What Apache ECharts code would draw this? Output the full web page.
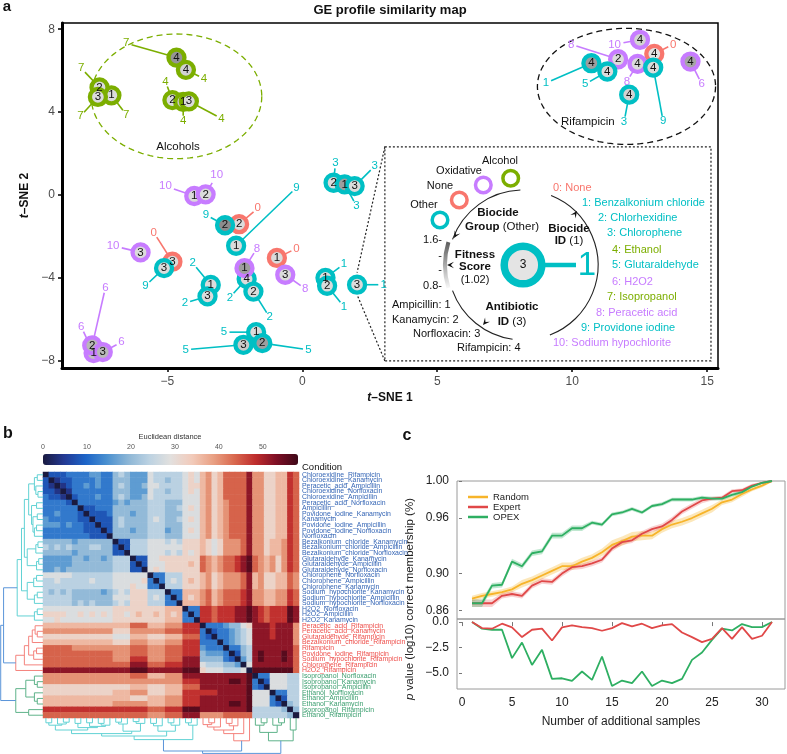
<!DOCTYPE html>
<html><head><meta charset="utf-8">
<script src="https://cdn.jsdelivr.net/npm/echarts@6/dist/echarts.min.js"></script>
<style>html,body{margin:0;padding:0;background:#fff}#c{width:787px;height:754px}</style>
</head><body><div id="c"></div>
<script>
// ---------------- Panel a data ----------------
const biocideNames = ['None','Benzalkonium chloride','Chlorhexidine','Chlorophene','Ethanol','Glutaraldehyde','H2O2','Isopropanol','Peracetic acid','Providone iodine','Sodium hypochlorite'];
const biocideGroup = ['None','Other','Other','Other','Alcohol','Other','Oxidative','Alcohol','Oxidative','Other','Oxidative'];
const antibioticNames = ['Ampicillin','Kanamycin','Norfloxacin','Rifampicin'];
const ptX = [-4.66,-4.31,-7.07,-7.51,-7.57,-4.81,-4.41,-4.20, 12.51,13.04,11.70,12.42,13.0,10.71,11.30,12.11,14.38, -4.0,-3.58,-2.34,-2.86,-2.45,-5.99,-4.81,-5.12,-3.39,-3.51,-2.06,-2.14,-1.81,-0.94,-0.63,0.86,0.92,2.03,-1.71,-2.18,-1.48,-7.73,-7.78,-7.39,1.16,1.57,1.94];
const ptY = [6.63,6.04,4.81,5.19,4.73,4.58,4.49,4.52, 7.49,6.81,6.55,6.33,6.15,6.36,5.96,4.84,6.44, -0.05,0.03,-1.41,-1.46,-2.45,-2.77,-3.22,-3.53,-4.34,-4.89,-4.05,-3.53,-4.66,-3.04,-3.85,-4.0,-4.38,-4.33,-6.62,-7.23,-7.15,-7.63,-7.26,-7.58,0.59,0.51,0.43];
const ptBiocide = [7,4,7,7,7,4,4,4, 10,0,8,8,9,1,5,3,6, 10,10,0,9,9,10,0,9,2,2,2,8,2,0,8,1,1,1,5,5,5,6,6,6,3,3,3];
const ptAntibiotic = [4,4,1,2,3,2,1,3, 4,4,2,4,4,4,4,4,4, 1,2,2,2,1,3,3,3,1,3,4,1,2,1,3,1,2,3,1,3,2,1,2,3,2,1,3];
const ptFitness = [1.35,1.0,0.95,0.95,0.95,0.95,1.05,0.95, 1.0,0.9,0.95,0.95,0.95,1.3,0.95,1.0,1.25, 0.95,0.95,0.95,1.4,0.95,0.95,0.95,0.95,0.95,0.95,0.95,1.3,0.95,0.95,0.95,0.95,0.95,0.95,0.95,1.05,1.3,1.1,1.15,1.15,0.95,1.3,0.95];
const lblX = [-6.52,-3.64,-6.52,-8.19,-8.22,-5.07,-4.41,-2.99, 11.57,13.74,9.96,12.03,13.37,9.03,10.48,11.92,14.80, -5.07,-3.17,-1.65,-3.57,-0.22,-7.01,-5.50,-5.81,-4.06,-4.35,-2.68,-1.68,-1.21,-0.22,0.11,1.54,1.54,3.02,-2.90,-4.32,0.23,-8.19,-7.29,-6.70,1.23,2.01,2.68];
const lblY = [7.32,5.61,3.88,6.12,3.80,5.48,3.56,3.69, 7.27,7.27,7.27,5.48,3.56,5.41,5.35,3.52,5.35, 0.43,0.96,-0.64,-0.96,0.35,-2.45,-1.81,-4.38,-3.28,-5.22,-4.94,-2.58,-5.90,-2.58,-4.53,-3.33,-5.38,-4.33,-6.62,-7.47,-7.47,-6.35,-4.46,-7.10,1.55,-0.53,1.39];
const clusterNames = ['Alcohols','Rifampicin'];
const clusterEllipse = [[-4.66,4.76,3.16,3.01],[12.01,5.24,3.30,2.80]];
const clusterLabelXY = [[-4.6,2.32],[10.58,3.54]];
const insetBox = [3.06,2.32,15.14,-8.01];
const insetPoint = 34; // index of the highlighted point
const xTicksA = [-5,0,5,10,15];
const yTicksA = [-8,-4,0,4,8];

// ---------------- Panel b data ----------------
const conditions = ['Chloroexidine_Rifampicin','Chloroexidine_Kanamycin','Peracetic_acid_Ampicillin','Chloroexidine_Norfloxacin','Chloroexidine_Ampicillin','Peracetic_acid_Norfloxacin','Ampicillin','Povidone_iodine_Kanamycin','Kanamycin','Povidone_iodine_Ampicillin','Povidone_iodine_Norfloxacin','Norfloxacin','Bezalkonium_chloride_Kanamycin','Bezalkonium_chloride_Ampicillin','Bezalkonium_chloride_Norfloxacin','Glutaraldehyde_Kanamycin','Glutaraldehyde_Ampicillin','Glutaraldehyde_Norfloxacin','Chlorophene_Norfloxacin','Chlorophene_Ampicillin','Chlorophene_Kanamycin','Sodium_hypochlorite_Kanamycin','Sodium_hypochlorite_Ampicillin','Sodium_hypochlorite_Norfloxacin','H2O2_Norfloxacin','H2O2_Ampicillin','H2O2_Kanamycin','Peracetic_acid_Rifampicin','Peracetic_acid_Kanamycin','Glutaraldehyde_Rifampicin','Bezalkonium_chloride_Rifampicin','Rifampicin','Povidone_iodine_Rifampicin','Sodium_hypochlorite_Rifampicin','Chlorophene_Rifampicin','H2O2_Rifampicin','Isopropanol_Norfloxacin','Isopropanol_Kanamycin','Isopropanol_Ampicillin','Ethanol_Norfloxacin','Ethanol_Ampicillin','Ethanol_Kanamycin','Isopropanol_Rifampicin','Ethanol_Rifampicin'];
const clusterSizes = [27,9,8];
// upper triangle of the distance matrix, one char per cell (hex digit x 4 = distance)
const distUpper = [
"02223 3334433 565 444 766 666 787 9A89BBBBD AA8899CB",
"0122 3333433 555 444 766 566 787 9A89BBBBD AA8899CB",
"012 3343433 565 445 776 666 788 9A89BBBBD AA8899CB",
"01 3333333 555 444 766 566 787 9A89BBBBD AA8899CB",
"0 2333433 565 445 766 666 777 9A89BBBBD AA8899CB",
"0333333 454 555 666 555 777 9A89ABBBD AA8899CB",
"022333 555 555 666 556 787 9A89ABBBD AA8899CB",
"02223 555 455 666 555 777 9A89ABBBD AA8899CB",
"0222 565 555 676 556 787 9A89ABBBD AA8899CB",
"022 565 555 666 555 777 9A89ABBBD AA8899CB",
"02 555 455 666 455 787 9A89ABBBD AA8899CB",
"0 555 555 666 555 777 9A89ABBBD AA8899CB",
"022 666 777 676 888 9878AAABD AA899ACB",
"02 666 777 777 888 9878AAABD AA899ACB",
"0 666 777 676 878 9878AAABD AA899ACB",
"022 778 888 888 BA9ABBCDE BA9A8ACB",
"02 777 888 898 BA9ABBCDE BA9A8ACB",
"0 787 888 888 BA9ABBCDE BA9A8ACB",
"033 666 888 9A89AAABD 9A8899BA",
"03 676 898 9A89AAABD 9A8899BA",
"0 666 888 9A89AAABD 9A8899BA",
"033 999 AB9ABBBCD AA99AACB",
"03 989 AB9ABBBCD AA99AACB",
"0 999 AB9ABBBCD AA99AACB",
"033 CCBCCCDDE DCBCCCED",
"03 CCBCCCDDE DCBCCCED",
"0 CCBCCCDDE DCBCCCED",
"033345578 DDDCDDDA",
"02334567 DDDCDDDA",
"0334567 DDDCDDDA",
"034567 DDDDDDDA",
"03356 DDDDDDDB",
"0256 DEDDDEDB",
"046 DEDDDEDB",
"07 DDDDDDDB",
"0 EEEEEEEB",
"033 777 66",
"02 777 66",
"0 777 66",
"033 66",
"02 66",
"0 56",
"05",
"0"];
// hierarchical merges: [nodeA, nodeB, height]; leaves 0..43, merge k -> node 44+k
const merges = [[0,1,8],[3,4,7],[2,45,10],[44,46,12],[5,6,9],[7,8,8],[9,10,9],[50,11,12],[49,51,14],[48,52,16],[47,53,20],
[12,13,7],[55,14,10],[15,16,6],[57,17,9],[56,58,22],[54,59,26],[18,19,9],[61,20,13],[21,22,8],[63,23,12],[62,64,22],[60,65,30],
[24,25,8],[67,26,12],[66,68,36],
[28,29,8],[27,70,11],[71,30,15],[31,32,9],[73,33,13],[72,74,20],[75,34,26],[76,35,38],
[37,38,8],[36,78,12],[40,41,8],[39,80,12],[79,81,24],[42,43,20],[82,83,38],
[69,77,55],[85,84,59]];
const colorbarTicks = [0,10,20,30,40,50];

// ---------------- Panel c data ----------------
const samples = [1,2,3,4,5,6,7,8,9,10,11,12,13,14,15,16,17,18,19,20,21,22,23,24,25,26,27,28,29,30,31];
const randomMean = [0.873,0.876,0.878,0.880,0.883,0.889,0.893,0.898,0.903,0.908,0.908,0.913,0.917,0.923,0.931,0.935,0.940,0.941,0.941,0.948,0.953,0.956,0.960,0.965,0.970,0.977,0.980,0.986,0.991,0.995,1.000];
const expertMean = [0.868,0.868,0.868,0.876,0.878,0.876,0.887,0.892,0.891,0.900,0.907,0.908,0.911,0.915,0.927,0.934,0.936,0.943,0.948,0.951,0.958,0.967,0.973,0.979,0.981,0.982,0.989,0.990,0.995,0.998,1.000];
const opexMean = [0.868,0.868,0.887,0.888,0.913,0.908,0.922,0.924,0.941,0.941,0.949,0.949,0.955,0.953,0.964,0.966,0.970,0.966,0.973,0.975,0.980,0.980,0.980,0.982,0.981,0.981,0.985,0.988,0.994,0.998,1.000];
const randomBand = [0.003,0.003,0.003,0.003,0.003,0.004,0.004,0.004,0.004,0.004,0.004,0.004,0.004,0.004,0.005,0.005,0.005,0.005,0.004,0.004,0.004,0.004,0.004,0.004,0.004,0.003,0.003,0.003,0.002,0.002,0.001];
const expertBand = [0.004,0.004,0.004,0.003,0.003,0.003,0.003,0.003,0.003,0.003,0.003,0.003,0.003,0.003,0.003,0.003,0.003,0.003,0.003,0.003,0.003,0.003,0.003,0.003,0.002,0.002,0.002,0.002,0.002,0.001,0.001];
const opexBand = [0.004,0.004,0.003,0.003,0.003,0.003,0.003,0.003,0.003,0.003,0.003,0.003,0.002,0.002,0.002,0.002,0.002,0.002,0.002,0.002,0.002,0.002,0.002,0.002,0.002,0.002,0.002,0.002,0.001,0.001,0.001];
const expertLogP = [0,-0.59,-0.65,-0.16,-0.52,-1.47,-0.75,-0.65,-1.8,-0.52,-0.33,-0.49,-0.59,-0.85,-0.59,-0.10,-0.43,-0.16,-0.59,-0.33,-0.2,-1.02,-1.47,-1.96,-1.64,-0.59,-1.64,-0.49,-1.64,-1.34,0];
const opexLogP = [0,-0.65,-0.75,-0.75,-3.53,-2.0,-4.19,-2.72,-5.56,-5.5,-5.75,-4.84,-5.66,-3.37,-6.25,-5.72,-5.98,-4.84,-6.25,-5.72,-5.98,-5.56,-3.70,-2.98,-1.74,-0.65,-0.82,-0.2,-0.49,-0.49,0];
const xTicksC = [0,5,10,15,20,25,30];
const yTicksCUp = [0.86,0.90,0.96,1.00];
const yTicksCLow = [-5,-2.5,0];

// ---------------- styling / build ----------------
const FF = '"Liberation Sans", Arial, Helvetica, sans-serif';
const groupColor = {None:'#F8766D', Alcohol:'#7CAE00', Other:'#00BFC4', Oxidative:'#C77CFF'};
const bioColor = b => groupColor[biocideGroup[b]];
function fitGray(f){const t=Math.max(0,Math.min(1,(f-0.8)/0.8));const v=Math.round(245-t*140);return 'rgb('+v+','+v+','+v+')';}
const minus = v => (v<0?'\u2212':'')+Math.abs(v);

// matrix
const N = conditions.length;
const M = Array.from({length:N},()=>new Array(N).fill(0));
distUpper.forEach((s,i)=>{s=s.replace(/ /g,'');for(let k=0;k<s.length;k++){const j=i+k;const v=parseInt(s[k],16)*4;M[i][j]=v;M[j][i]=v;}});
const heatData=[];for(let i=0;i<N;i++)for(let j=0;j<N;j++)heatData.push([j,i,M[i][j]]);
const bounds=[];{let acc=0;clusterSizes.forEach(s=>{bounds.push([acc,acc+s-1]);acc+=s;});}
const clusterOf = i => bounds.findIndex(b=>i>=b[0]&&i<=b[1]);
const dendroCol = ['#62d2d4','#f4837d','#5fb38a'];
const labelCol = ['#3465b5','#ee4f4b','#3a9e6e'];
// dendrogram geometry
const nPos=[],nH=[],nMin=[],nMax=[];
for(let i=0;i<N;i++){nPos[i]=i;nH[i]=0;nMin[i]=i;nMax[i]=i;}
const segs=[];
merges.forEach(([a,b,h],k)=>{const id=N+k;nPos[id]=(nPos[a]+nPos[b])/2;nH[id]=h;nMin[id]=Math.min(nMin[a],nMin[b]);nMax[id]=Math.max(nMax[a],nMax[b]);
  const ca=clusterOf(nMin[id]),cb=clusterOf(nMax[id]);const col=ca===cb?dendroCol[ca]:'#5b95d9';
  segs.push({a:nPos[a],ha:nH[a],b:nPos[b],hb:nH[b],h:h,col:col});});
const leftDendro=segs.map(s=>({coords:[[s.ha,s.a],[s.h,s.a],[s.h,s.b],[s.hb,s.b]],lineStyle:{color:s.col}}));
const bottomDendro=segs.map(s=>({coords:[[s.a,s.ha],[s.a,s.h],[s.b,s.h],[s.b,s.hb]],lineStyle:{color:s.col}}));

// bands
const bandMeans=[randomMean,expertMean,opexMean], bandHalf=[randomBand,expertBand,opexBand];
const bandColors=['rgba(247,180,40,0.32)','rgba(226,70,70,0.25)','rgba(46,175,98,0.3)'];

// inset diagram (legend schematic, pixel layout)
const CX=523, CY=265, R=75;
const deg = d => d*Math.PI/180;
function arrowHead(tx,ty,a){const L=7,W=3.2;const bx=tx-L*Math.cos(a),by=ty-L*Math.sin(a);const nx=-Math.sin(a),ny=Math.cos(a);
  return {type:'polygon',shape:{points:[[tx,ty],[bx+nx*W,by+ny*W],[tx-0.55*L*Math.cos(a),ty-0.55*L*Math.sin(a)],[bx-nx*W,by-ny*W]]},style:{fill:'#111'}};}
function txt(x,y,t,o){o=o||{};return {type:'text',x:x,y:y,z:10,style:Object.assign({text:t,fontFamily:FF,fontSize:11,fill:'#111',align:'center',verticalAlign:'middle',rich:{b:{fontWeight:'bold',fontSize:o.fontSize||11,fontFamily:FF}}},o)};}
const inset=[];
inset.push({type:'arc',shape:{cx:CX,cy:CY,r:R,startAngle:deg(200),endAngle:deg(268),clockwise:true},style:{stroke:'#222',lineWidth:1.1,fill:null}});
inset.push({type:'arc',shape:{cx:CX,cy:CY,r:R,startAngle:deg(98),endAngle:deg(160),clockwise:true},style:{stroke:'#222',lineWidth:1.1,fill:null}});
inset.push({type:'arc',shape:{cx:CX,cy:CY,r:R,startAngle:deg(-68),endAngle:deg(69),clockwise:true},style:{stroke:'#222',lineWidth:1.1,fill:null}});
inset.push({type:'arc',shape:{cx:CX,cy:CY,r:R+3,startAngle:deg(163),endAngle:deg(197),clockwise:true},style:{lineWidth:4,fill:null,stroke:new echarts.graphic.LinearGradient(0,0,0,1,[{offset:0,color:'#555'},{offset:1,color:'#fff'}])}});
inset.push(arrowHead(454,238,deg(120)),arrowHead(447,265,deg(180)),arrowHead(483,325,deg(130)),arrowHead(577,211,deg(-55)));
inset.push({type:'circle',shape:{cx:CX,cy:CY,r:18.8},style:{fill:'#e4e4e4',stroke:groupColor.Other,lineWidth:7.5}});
inset.push({type:'line',shape:{x1:545,y1:CY,x2:576,y2:CY},style:{stroke:groupColor.Other,lineWidth:4.5}});
inset.push(txt(CX,CY,'3',{fontSize:12}));
inset.push(txt(587,CY+1,'1',{fontSize:33,fill:groupColor.Other}));
[['Alcohol',510.7,178.3,500,161],['Oxidative',483.3,185,459,171],['None',459.3,200,440,186],['Other',440,220,424,205]].forEach(g=>{
  inset.push({type:'circle',z:9,shape:{cx:g[1],cy:g[2],r:7.8},style:{fill:'#fff',stroke:groupColor[g[0]],lineWidth:3.5}});
  inset.push(txt(g[3],g[4],g[0]));});
inset.push(txt(498,213,'{b|Biocide}',{fontSize:11.5}),txt(502,227,'{b|Group} (Other)',{fontSize:11.5}),txt(569,229,'{b|Biocide}',{fontSize:11.5}),txt(569,241,'{b|ID} (1)',{fontSize:11.5}));
inset.push(txt(475,255,'{b|Fitness}',{fontSize:11.5}),txt(475,267,'{b|Score}',{fontSize:11.5}),txt(475,280,'(1.02)'));
inset.push(txt(512,307,'{b|Antibiotic}',{fontSize:11.5}),txt(512,322,'{b|ID} (3)',{fontSize:11.5}));
inset.push(txt(442,240,'1.6-',{align:'right'}),txt(442,256,'-',{align:'right'}),txt(442,270,'-',{align:'right'}),txt(442,286,'0.8-',{align:'right'}));
const abX=[392,392,413,457], abY=[305,319.5,334,347.5];
antibioticNames.forEach((n,i)=>inset.push(txt(abX[i],abY[i],n+': '+(i+1),{align:'left'})));
const lsX=[553,582,598,607,612,612,612,607,596,581,553], lsY=[188,203,218,233,250,265,282,297,313,328,343];
biocideNames.forEach((n,i)=>inset.push(txt(lsX[i],lsY[i],i+': '+n,{align:'left',fill:bioColor(i)})));

const chart = echarts.init(document.getElementById('c'),null,{renderer:'canvas'});
const valAxisOff = {show:false,splitLine:{show:false}};
const axisTitleRich = {i:{fontStyle:'italic',fontWeight:'bold',fontSize:12,fontFamily:FF}};
const option = {
  animation:false,
  textStyle:{fontFamily:FF},
  grid:[
    {left:62,top:23,width:656,height:345,show:true,borderColor:'#000',borderWidth:1.5},
    {left:43,top:472,width:256,height:246},
    {left:0,top:472,width:43,height:246},
    {left:43,top:718,width:256,height:36},
    {left:43,top:454,width:255,height:11},
    {left:457,top:481,width:328,height:138,show:true,borderColor:'#9a9a9a',borderWidth:1},
    {left:457,top:619,width:328,height:70,show:true,borderColor:'#9a9a9a',borderWidth:1}
  ],
  xAxis:[
    {type:'value',gridIndex:0,min:-8.9,max:15.4,splitLine:{show:false},axisLine:{show:true,onZero:false,lineStyle:{color:'#000',width:3}},
     axisTick:{show:true,length:4,lineStyle:{color:'#000',width:1.5},customValues:xTicksA},
     axisLabel:{customValues:xTicksA,formatter:minus,color:'#4d4d4d',fontSize:12,margin:8},
     name:'{i|t}\u2013SNE 1',nameLocation:'middle',nameGap:24,nameTextStyle:{fontWeight:'bold',fontSize:12,color:'#111',rich:axisTitleRich}},
    {type:'category',gridIndex:1,data:conditions,axisLine:{show:false},axisTick:{show:false},axisLabel:{show:false}},
    Object.assign({type:'value',gridIndex:2,min:0,max:60,inverse:true},valAxisOff),
    Object.assign({type:'value',gridIndex:3,min:-0.5,max:43.5},valAxisOff),
    {type:'value',gridIndex:4,min:0,max:58,position:'top',splitLine:{show:false},axisLine:{show:false},axisTick:{show:false},
     axisLabel:{customValues:colorbarTicks,fontSize:7,color:'#555',margin:3}},
    Object.assign({type:'value',gridIndex:5,min:-0.5,max:32.3},valAxisOff),
    {type:'value',gridIndex:6,min:-0.5,max:32.3,splitLine:{show:false},axisLine:{show:false},
     axisTick:{show:true,length:4,lineStyle:{color:'#777'},customValues:xTicksC},
     axisLabel:{customValues:xTicksC,fontSize:12,color:'#222',margin:8},
     name:'Number of additional samples',nameLocation:'middle',nameGap:27,nameTextStyle:{fontSize:12,color:'#222'}}
  ],
  yAxis:[
    {type:'value',gridIndex:0,min:-8.35,max:8.3,splitLine:{show:false},axisLine:{show:true,onZero:false,lineStyle:{color:'#000',width:3}},
     axisTick:{show:true,length:4,lineStyle:{color:'#000',width:1.5},customValues:yTicksA},
     axisLabel:{customValues:yTicksA,formatter:minus,color:'#4d4d4d',fontSize:12,margin:7},
     name:'{i|t}\u2013SNE 2',nameLocation:'middle',nameGap:31,nameRotate:90,nameTextStyle:{fontWeight:'bold',fontSize:12,color:'#111',rich:axisTitleRich}},
    {type:'category',gridIndex:1,data:conditions,inverse:true,position:'right',axisLine:{show:false},axisTick:{show:false},
     axisLabel:{interval:0,fontSize:6.9,margin:3,color:(v)=>labelCol[clusterOf(conditions.indexOf(v))]}},
    Object.assign({type:'value',gridIndex:2,min:-0.5,max:43.5,inverse:true},valAxisOff),
    Object.assign({type:'value',gridIndex:3,min:0,max:60,inverse:true},valAxisOff),
    Object.assign({type:'value',gridIndex:4,min:0,max:1},valAxisOff),
    {type:'value',gridIndex:5,min:0.851,max:1.0,splitLine:{show:false},axisLine:{show:false},
     axisTick:{show:true,length:3,lineStyle:{color:'#777'},customValues:yTicksCUp},
     axisLabel:{customValues:yTicksCUp,formatter:v=>v.toFixed(2),fontSize:12,color:'#222',margin:8}},
    {type:'value',gridIndex:6,min:-6.55,max:0.3,splitLine:{show:false},axisLine:{show:false},
     axisTick:{show:true,length:3,lineStyle:{color:'#777'},customValues:yTicksCLow},
     axisLabel:{customValues:yTicksCLow,formatter:v=>(v<0?'\u2212':'')+Math.abs(v).toFixed(1),fontSize:12,color:'#222',margin:8}}
  ],
  visualMap:{type:'continuous',seriesIndex:4,dimension:2,min:0,max:58,orient:'horizontal',left:43,top:454,itemWidth:11,itemHeight:255,
    calculable:false,padding:0,text:null,showLabel:false,inRange:{color:['#1a1a40','#243a94','#1c64c8','#4a90d0','#8cb6d6','#bcd2e2','#e2e0de','#f2cbbb','#e9a184','#d9694f','#bf2d2d','#7d0f25','#3e0818']}},
  legend:{data:['Random','Expert','OPEX'],orient:'vertical',left:463,top:487,itemWidth:20,itemHeight:2.5,itemGap:0,icon:'rect',selectedMode:false,
    textStyle:{fontSize:9.5,color:'#222',fontFamily:FF}},
  series:[
    {type:'custom',xAxisIndex:0,yAxisIndex:0,silent:true,z:1,data:clusterEllipse.map((e,i)=>e.concat([i])),
     renderItem:(p,api)=>{const i=api.value(4);const c=api.coord([api.value(0),api.value(1)]);const s=api.size([api.value(2),api.value(3)]);
       const pts=[];for(let k=0;k<=120;k++){const t=k/120*2*Math.PI;pts.push([c[0]+s[0]*Math.cos(t),c[1]+s[1]*Math.sin(t)]);}
       const col=i===0?groupColor.Alcohol:'#111';const lp=api.coord(clusterLabelXY[i]);
       return {type:'group',children:[{type:'polyline',shape:{points:pts},style:{stroke:col,lineWidth:1.3,lineDash:[6,4],fill:'none'}},
         {type:'text',x:lp[0],y:lp[1],style:{text:clusterNames[i],fontSize:11.5,fontFamily:FF,fill:'#111',align:'center',verticalAlign:'middle'}}]};}},
    {type:'custom',xAxisIndex:0,yAxisIndex:0,silent:true,z:1,data:[insetBox.concat([ptX[insetPoint],ptY[insetPoint]])],
     renderItem:(p,api)=>{const a=api.coord([api.value(0),api.value(1)]);const b=api.coord([api.value(2),api.value(3)]);const t=api.coord([api.value(4),api.value(5)]);
       const st={stroke:'#222',lineWidth:1.2,lineDash:[2,2],fill:'none'};
       return {type:'group',children:[{type:'rect',shape:{x:a[0],y:a[1],width:b[0]-a[0],height:b[1]-a[1]},style:st},
         {type:'line',shape:{x1:a[0],y1:a[1],x2:t[0],y2:t[1]-12},style:st},{type:'line',shape:{x1:a[0],y1:b[1],x2:t[0],y2:t[1]+10},style:st}]};}},
    {type:'custom',xAxisIndex:0,yAxisIndex:0,silent:true,z:2,data:ptX.map((x,i)=>[x,ptY[i],lblX[i],lblY[i],ptBiocide[i]]),
     renderItem:(p,api)=>{const a=api.coord([api.value(0),api.value(1)]);const q=api.coord([api.value(2),api.value(3)]);const b=api.value(4);const col=bioColor(b);
       const dx=q[0]-a[0],dy=q[1]-a[1];const L=Math.hypot(dx,dy)||1;const cut=b>=10?9:5.5;
       return {type:'group',children:[{type:'line',shape:{x1:a[0],y1:a[1],x2:q[0]-dx/L*cut,y2:q[1]-dy/L*cut},style:{stroke:col,lineWidth:1.6}},
         {type:'text',x:q[0],y:q[1],style:{text:String(b),fontSize:11.5,fontFamily:FF,fill:col,align:'center',verticalAlign:'middle'}}]};}},
    {type:'scatter',xAxisIndex:0,yAxisIndex:0,z:3,symbolSize:16,silent:true,
     data:ptX.map((x,i)=>({value:[x,ptY[i]],itemStyle:{color:fitGray(ptFitness[i]),borderColor:bioColor(ptBiocide[i])},label:{formatter:String(ptAntibiotic[i])}})),
     itemStyle:{borderWidth:4.3,opacity:1},label:{show:true,position:'inside',color:'#111',fontSize:11.5,fontFamily:FF}},
    {type:'heatmap',xAxisIndex:1,yAxisIndex:1,data:heatData,silent:true,itemStyle:{borderWidth:0}},
    {type:'lines',coordinateSystem:'cartesian2d',xAxisIndex:2,yAxisIndex:2,polyline:true,silent:true,data:leftDendro,lineStyle:{width:1,opacity:1}},
    {type:'lines',coordinateSystem:'cartesian2d',xAxisIndex:3,yAxisIndex:3,polyline:true,silent:true,data:bottomDendro,lineStyle:{width:1,opacity:1}},
    {type:'custom',xAxisIndex:5,yAxisIndex:5,silent:true,z:1,data:[[0],[1],[2]],
     renderItem:(p,api)=>{const k=api.value(0);const m=bandMeans[k],b=bandHalf[k];const up=[],lo=[];
       samples.forEach((x,i)=>{up.push(api.coord([x,m[i]+b[i]]));lo.push(api.coord([x,m[i]-b[i]]));});
       return {type:'polygon',shape:{points:up.concat(lo.reverse())},style:{fill:bandColors[k]}};}},
    {name:'Random',type:'line',xAxisIndex:5,yAxisIndex:5,symbol:'none',color:'#f7b42a',z:3,lineStyle:{width:1.8},data:samples.map((x,i)=>[x,randomMean[i]])},
    {name:'Expert',type:'line',xAxisIndex:5,yAxisIndex:5,symbol:'none',color:'#e04848',z:3,lineStyle:{width:1.8},data:samples.map((x,i)=>[x,expertMean[i]])},
    {name:'OPEX',type:'line',xAxisIndex:5,yAxisIndex:5,symbol:'none',color:'#2eaf62',z:3,lineStyle:{width:1.8},data:samples.map((x,i)=>[x,opexMean[i]])},
    {type:'line',xAxisIndex:6,yAxisIndex:6,symbol:'none',color:'#2eaf62',lineStyle:{width:1.8},data:samples.map((x,i)=>[x,opexLogP[i]])},
    {type:'line',xAxisIndex:6,yAxisIndex:6,symbol:'none',color:'#e04848',lineStyle:{width:1.8},data:samples.map((x,i)=>[x,expertLogP[i]])}
  ],
  graphic:[
    {type:'group',silent:true,children:inset},
    txt(7,7,'a',{fontSize:15,fontWeight:'bold'}),
    txt(8,434,'b',{fontSize:16,fontWeight:'bold'}),
    txt(407,436,'c',{fontSize:16,fontWeight:'bold'}),
    txt(390,10,'GE profile similarity map',{fontSize:13,fontWeight:'bold'}),
    txt(170,437,'Euclidean distance',{fontSize:7.5,fill:'#333'}),
    txt(302,467,'Condition',{fontSize:9.5,align:'left'}),
    {type:'text',x:410,y:599,rotation:Math.PI/2,style:{text:'{i|p} value (log10) correct membership (%)',fontSize:11.5,fontFamily:FF,fill:'#222',align:'center',verticalAlign:'middle',rich:{i:{fontStyle:'italic',fontSize:11.5,fontFamily:FF}}}}
  ]
};
chart.setOption(option);
</script></body></html>
